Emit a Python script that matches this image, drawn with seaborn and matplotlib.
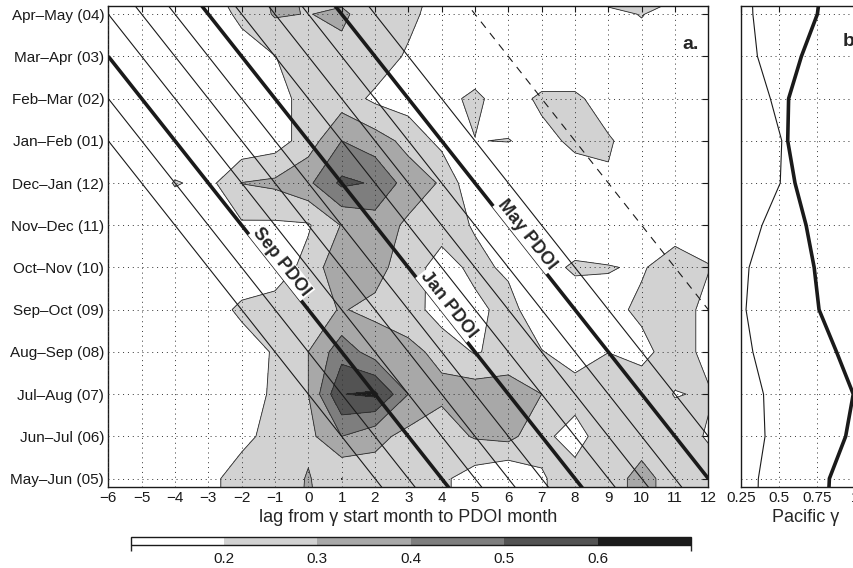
import numpy as np
import matplotlib
matplotlib.use("Agg")
import matplotlib.pyplot as plt
import seaborn as sns
from matplotlib.colors import ListedColormap, BoundaryNorm
import matplotlib.cm as cm

# ---------------- data ----------------
lags = list(range(-6, 13))
season_labels = ["May–Jun (05)", "Jun–Jul (06)", "Jul–Aug (07)", "Aug–Sep (08)",
                 "Sep–Oct (09)", "Oct–Nov (10)", "Nov–Dec (11)", "Dec–Jan (12)",
                 "Jan–Feb (01)", "Feb–Mar (02)", "Mar–Apr (03)", "Apr–May (04)"]
grid_rows = list(range(-1, 13))   # one row beyond each edge of the plotted range

gamma_below = [0.03, 0.05, 0.08, 0.17, 0.25, 0.22, 0.32, 0.24, 0.25, 0.25, 0.22, 0.15, 0.12, 0.19, 0.25, 0.26, 0.33, 0.26, 0.25]
gamma_05 = [0.03, 0.05, 0.08, 0.17, 0.25, 0.22, 0.31, 0.199, 0.25, 0.25, 0.22, 0.15, 0.10, 0.19, 0.25, 0.26, 0.33, 0.26, 0.25]
gamma_06 = [0.03, 0.05, 0.08, 0.10, 0.17, 0.24, 0.27, 0.40, 0.33, 0.27, 0.25, 0.31, 0.33, 0.23, 0.15, 0.275, 0.26, 0.25, 0.19]
gamma_07 = [0.03, 0.05, 0.08, 0.10, 0.17, 0.21, 0.30, 0.597, 0.62, 0.40, 0.32, 0.36, 0.35, 0.30, 0.25, 0.25, 0.26, 0.195, 0.21]
gamma_08 = [0.03, 0.05, 0.08, 0.10, 0.15, 0.21, 0.30, 0.46, 0.35, 0.32, 0.28, 0.19, 0.24, 0.205, 0.15, 0.199, 0.17, 0.25, 0.17]
gamma_09 = [0.03, 0.05, 0.08, 0.15, 0.22, 0.24, 0.27, 0.305, 0.28, 0.26, 0.14, 0.17, 0.24, 0.12, 0.12, 0.17, 0.22, 0.25, 0.17]
gamma_10 = [0.03, 0.05, 0.08, 0.10, 0.13, 0.15, 0.23, 0.386, 0.33, 0.255, 0.15, 0.23, 0.18, 0.15, 0.22, 0.205, 0.19, 0.25, 0.205]
gamma_11 = [0.03, 0.06, 0.10, 0.12, 0.186, 0.184, 0.19, 0.305, 0.35, 0.283, 0.25, 0.19, 0.10, 0.10, 0.10, 0.12, 0.14, 0.15, 0.15]
gamma_12 = [0.04, 0.08, 0.21, 0.167, 0.302, 0.32, 0.38, 0.52, 0.49, 0.352, 0.29, 0.11, 0.10, 0.12, 0.15, 0.19, 0.14, 0.12, 0.12]
gamma_01 = [0.04, 0.06, 0.08, 0.10, 0.12, 0.15, 0.25, 0.40, 0.345, 0.27, 0.17, 0.198, 0.203, 0.17, 0.22, 0.21, 0.15, 0.12, 0.10]
gamma_02 = [0.05, 0.07, 0.09, 0.10, 0.12, 0.17, 0.23, 0.25, 0.18, 0.15, 0.17, 0.22, 0.15, 0.22, 0.22, 0.15, 0.12, 0.10, 0.10]
gamma_03 = [0.05, 0.07, 0.10, 0.12, 0.16, 0.198, 0.25, 0.27, 0.26, 0.185, 0.15, 0.13, 0.10, 0.10, 0.10, 0.12, 0.15, 0.12, 0.10]
gamma_04 = [0.05, 0.08, 0.10, 0.15, 0.22, 0.31, 0.297, 0.32, 0.24, 0.23, 0.145, 0.12, 0.10, 0.10, 0.12, 0.17, 0.205, 0.15, 0.12]
gamma_above = [0.05, 0.08, 0.10, 0.20, 0.25, 0.33, 0.27, 0.20, 0.24, 0.25, 0.18, 0.12, 0.10, 0.10, 0.12, 0.35, 0.35, 0.30, 0.15]

levels = [0.2, 0.3, 0.4, 0.5, 0.6]
colorbar_bounds = [0.1, 0.2, 0.3, 0.4, 0.5, 0.6, 0.7]
fill_colors = ["#ffffff", "#d2d2d2", "#a8a8a8", "#7e7e7e", "#535353", "#1c1c1c"]

pdoi_thin = [2, 3, 5, 6, 7, 9, 10, 11, 13]
pdoi_thick = [4, 8, 12]
pdoi_dashed = [16]
pdoi_names = ["Sep PDOI", "Jan PDOI", "May PDOI"]
pdoi_label_rows = [5.0, 4.0, 5.65]

# panel b (rows May-Jun .. Apr-May, plus one value beyond each edge)
pacific_rows = list(range(-1, 13))
pacific_thin = [0.36, 0.366, 0.41, 0.40, 0.33, 0.285, 0.305, 0.39, 0.51, 0.52, 0.445, 0.36, 0.33, 0.32]
pacific_thick = [0.82, 0.833, 0.94, 0.99, 0.88, 0.765, 0.733, 0.68, 0.607, 0.559, 0.565, 0.649, 0.754, 0.79]
pacific_ticks = [0.25, 0.5, 0.75, 1.0]
pacific_ticklabels = ["0.25", "0.5", "0.75", "1"]

# ---------------- style ----------------
sns.set_theme(style="white")
plt.rcParams['font.family'] = ['Liberation Sans', 'DejaVu Sans']
plt.rcParams['axes.unicode_minus'] = True

W, H = 854, 568
fig = plt.figure(figsize=(W / 100, H / 100), dpi=100)
ax_l, ax_r, ax_t, ax_b = 108.3, 708.3, 5.7, 487.0
ax = fig.add_axes([ax_l / W, 1 - ax_b / H, (ax_r - ax_l) / W, (ax_b - ax_t) / H])
bx_l, bx_r = 740.7, 870.0
axb = fig.add_axes([bx_l / W, 1 - ax_b / H, (bx_r - bx_l) / W, (ax_b - ax_t) / H])
cax = fig.add_axes([130.6 / W, 1 - 545 / H, (691 - 130.6) / W, 8 / H])

# ---------------- panel a ----------------
Z = np.array([gamma_below, gamma_05, gamma_06, gamma_07, gamma_08, gamma_09, gamma_10,
              gamma_11, gamma_12, gamma_01, gamma_02, gamma_03, gamma_04, gamma_above])
ax.contourf(lags, grid_rows, Z, levels=[-1] + levels + [2], colors=fill_colors, zorder=1)
ax.contour(lags, grid_rows, Z, levels=levels, colors="#2a2a2a", linewidths=0.6, zorder=1.5)

ax.set_xlim(-6, 12)
ax.set_ylim(-0.2, 11.2)
xline = np.array([lags[0], lags[-1]], dtype=float)
for c in pdoi_thin:
    ax.plot(xline, c - xline, color="k", lw=0.8, zorder=3)
for c in pdoi_thick:
    ax.plot(xline, c - xline, color="k", lw=2.6, zorder=3, solid_capstyle="butt")
for c in pdoi_dashed:
    ax.plot(xline, c - xline, color="k", lw=0.8, zorder=3, dashes=(7, 6))

ax.grid(True, linestyle=(0, (1, 4)), color="#333333", lw=0.7)
ax.set_axisbelow(False)
ax.set_xticks(lags)
ax.set_yticks(range(12))
ax.set_yticklabels(season_labels)
ax.tick_params(direction="in", top=True, right=True, length=4, width=0.8,
               labelsize=11, pad=3, colors="k")
ax.set_xlabel("lag from γ start month to PDOI month", fontsize=13, labelpad=3)
for s in ax.spines.values():
    s.set_color("k")
    s.set_linewidth(1.0)

fig.canvas.draw()
p1 = ax.transData.transform((0, 4))
p2 = ax.transData.transform((1, 3))
angle = np.degrees(np.arctan2(p2[1] - p1[1], p2[0] - p1[0]))
for name, c, yrow in zip(pdoi_names, pdoi_thick, pdoi_label_rows):
    ax.text(c - yrow, yrow, name, rotation=angle, rotation_mode="anchor",
            ha="center", va="bottom", fontsize=13, fontweight="bold", zorder=5,
            bbox=dict(facecolor="white", edgecolor="none", pad=0.8))

ax.text(0.97, 0.92, "a.", transform=ax.transAxes, fontsize=14, fontweight="bold",
        ha="center", va="center", zorder=6)

# ---------------- panel b ----------------
sns.lineplot(x=pacific_thin, y=pacific_rows, sort=False, estimator=None,
             color="k", lw=0.8, ax=axb)
sns.lineplot(x=pacific_thick, y=pacific_rows, sort=False, estimator=None,
             color="k", lw=2.6, ax=axb)
axb.set_xlim(0.25, 1.1)
axb.set_ylim(-0.2, 11.2)
axb.set_yticks(range(12))
axb.set_yticklabels([])
axb.set_xticks(pacific_ticks)
axb.set_xticklabels(pacific_ticklabels)
axb.grid(True, linestyle=(0, (1, 4)), color="#333333", lw=0.7)
axb.tick_params(direction="in", top=True, right=True, length=4, width=0.8,
                labelsize=11, pad=3, colors="k")
axb.set_xlabel("Pacific γ", fontsize=13, labelpad=3)
axb.set_ylabel("")
for s in axb.spines.values():
    s.set_color("k")
    s.set_linewidth(1.0)
axb.text(0.79, 0.925, "b.", transform=axb.transAxes, fontsize=14, fontweight="bold",
         ha="left", va="center")

# ---------------- colorbar ----------------
cmap = ListedColormap(fill_colors)
norm = BoundaryNorm(colorbar_bounds, cmap.N)
cb = fig.colorbar(cm.ScalarMappable(norm=norm, cmap=cmap), cax=cax,
                  orientation="horizontal", ticks=levels)
cb.outline.set_linewidth(1.0)
cb.outline.set_edgecolor("k")
cax.tick_params(length=0, labelsize=11, pad=5, colors="k")
cax.set_xticklabels([f"{v:.1f}" for v in levels])

fig.savefig("out.png", dpi=100)
